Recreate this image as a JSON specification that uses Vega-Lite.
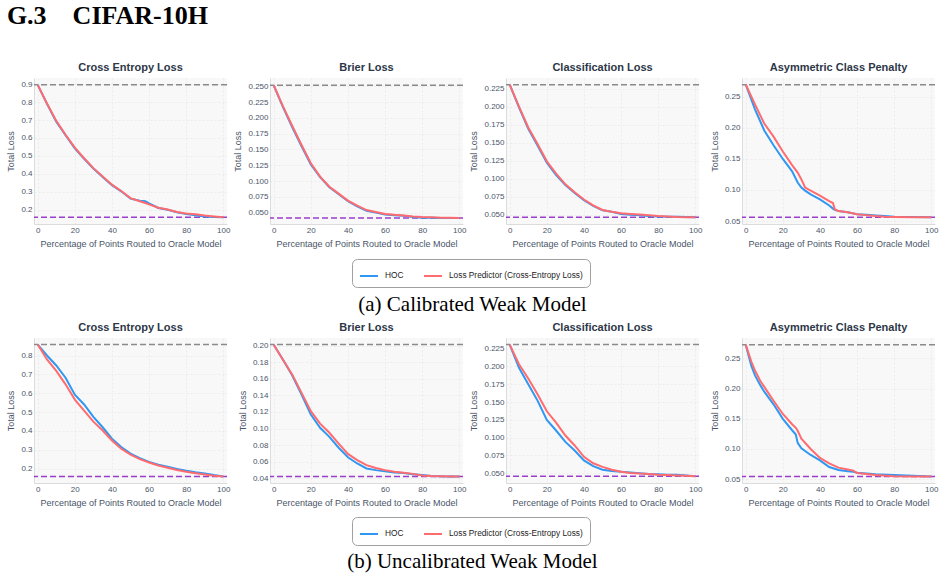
{
  "$schema": "https://vega.github.io/schema/vega-lite/v6.json",
  "background": "white",
  "padding": {"top": 3, "left": 6, "right": 5, "bottom": 5},
  "title": {"text": "G.3\u2003CIFAR-10H", "anchor": "start", "font": "Liberation Serif", "fontSize": 26, "fontWeight": "bold", "color": "#000000", "offset": 33},
  "datasets": {
    "refs": [
      {"p": "a1", "ref": "weak", "loss": 0.896}, {"p": "a1", "ref": "oracle", "loss": 0.158},
      {"p": "a2", "ref": "weak", "loss": 0.2515}, {"p": "a2", "ref": "oracle", "loss": 0.0416},
      {"p": "a3", "ref": "weak", "loss": 0.2305}, {"p": "a3", "ref": "oracle", "loss": 0.0463},
      {"p": "a4", "ref": "weak", "loss": 0.2698}, {"p": "a4", "ref": "oracle", "loss": 0.0559},
      {"p": "b1", "ref": "weak", "loss": 0.858}, {"p": "b1", "ref": "oracle", "loss": 0.158},
      {"p": "b2", "ref": "weak", "loss": 0.2012}, {"p": "b2", "ref": "oracle", "loss": 0.0424},
      {"p": "b3", "ref": "weak", "loss": 0.2306}, {"p": "b3", "ref": "oracle", "loss": 0.0457},
      {"p": "b4", "ref": "weak", "loss": 0.273}, {"p": "b4", "ref": "oracle", "loss": 0.0544}
    ],
    "curves": [
      {"p": "a1", "x": 0, "HOC": 0.896, "LP": 0.896},
      {"p": "a1", "x": 5, "HOC": 0.79, "LP": 0.792},
      {"p": "a1", "x": 10, "HOC": 0.69, "LP": 0.695},
      {"p": "a1", "x": 15, "HOC": 0.615, "LP": 0.618},
      {"p": "a1", "x": 20, "HOC": 0.542, "LP": 0.546},
      {"p": "a1", "x": 25, "HOC": 0.484, "LP": 0.487},
      {"p": "a1", "x": 30, "HOC": 0.43, "LP": 0.432},
      {"p": "a1", "x": 35, "HOC": 0.383, "LP": 0.386},
      {"p": "a1", "x": 40, "HOC": 0.337, "LP": 0.34},
      {"p": "a1", "x": 45, "HOC": 0.303, "LP": 0.305},
      {"p": "a1", "x": 50, "HOC": 0.262, "LP": 0.265},
      {"p": "a1", "x": 55, "HOC": 0.25, "LP": 0.248},
      {"p": "a1", "x": 58, "HOC": 0.248, "LP": 0.238},
      {"p": "a1", "x": 60, "HOC": 0.236, "LP": 0.23},
      {"p": "a1", "x": 65, "HOC": 0.21, "LP": 0.212},
      {"p": "a1", "x": 70, "HOC": 0.2, "LP": 0.202},
      {"p": "a1", "x": 75, "HOC": 0.186, "LP": 0.188},
      {"p": "a1", "x": 80, "HOC": 0.176, "LP": 0.18},
      {"p": "a1", "x": 85, "HOC": 0.17, "LP": 0.175},
      {"p": "a1", "x": 90, "HOC": 0.163, "LP": 0.168},
      {"p": "a1", "x": 95, "HOC": 0.16, "LP": 0.163},
      {"p": "a1", "x": 100, "HOC": 0.158, "LP": 0.158},

      {"p": "a2", "x": 0, "HOC": 0.2515, "LP": 0.2515},
      {"p": "a2", "x": 5, "HOC": 0.217, "LP": 0.218},
      {"p": "a2", "x": 10, "HOC": 0.185, "LP": 0.187},
      {"p": "a2", "x": 15, "HOC": 0.155, "LP": 0.157},
      {"p": "a2", "x": 20, "HOC": 0.126, "LP": 0.128},
      {"p": "a2", "x": 25, "HOC": 0.106, "LP": 0.107},
      {"p": "a2", "x": 30, "HOC": 0.09, "LP": 0.091},
      {"p": "a2", "x": 35, "HOC": 0.079, "LP": 0.08},
      {"p": "a2", "x": 40, "HOC": 0.068, "LP": 0.069},
      {"p": "a2", "x": 45, "HOC": 0.06, "LP": 0.061},
      {"p": "a2", "x": 50, "HOC": 0.053, "LP": 0.054},
      {"p": "a2", "x": 55, "HOC": 0.05, "LP": 0.051},
      {"p": "a2", "x": 60, "HOC": 0.047, "LP": 0.048},
      {"p": "a2", "x": 65, "HOC": 0.046, "LP": 0.0465},
      {"p": "a2", "x": 70, "HOC": 0.045, "LP": 0.0455},
      {"p": "a2", "x": 75, "HOC": 0.043, "LP": 0.044},
      {"p": "a2", "x": 80, "HOC": 0.042, "LP": 0.043},
      {"p": "a2", "x": 85, "HOC": 0.0418, "LP": 0.0425},
      {"p": "a2", "x": 90, "HOC": 0.0416, "LP": 0.042},
      {"p": "a2", "x": 95, "HOC": 0.0416, "LP": 0.0418},
      {"p": "a2", "x": 100, "HOC": 0.0416, "LP": 0.0416},

      {"p": "a3", "x": 0, "HOC": 0.2305, "LP": 0.2305},
      {"p": "a3", "x": 5, "HOC": 0.199, "LP": 0.2},
      {"p": "a3", "x": 10, "HOC": 0.169, "LP": 0.171},
      {"p": "a3", "x": 15, "HOC": 0.146, "LP": 0.148},
      {"p": "a3", "x": 20, "HOC": 0.122, "LP": 0.124},
      {"p": "a3", "x": 25, "HOC": 0.105, "LP": 0.107},
      {"p": "a3", "x": 30, "HOC": 0.091, "LP": 0.092},
      {"p": "a3", "x": 35, "HOC": 0.08, "LP": 0.081},
      {"p": "a3", "x": 40, "HOC": 0.07, "LP": 0.071},
      {"p": "a3", "x": 45, "HOC": 0.062, "LP": 0.063},
      {"p": "a3", "x": 50, "HOC": 0.056, "LP": 0.0565},
      {"p": "a3", "x": 55, "HOC": 0.054, "LP": 0.054},
      {"p": "a3", "x": 60, "HOC": 0.051, "LP": 0.052},
      {"p": "a3", "x": 65, "HOC": 0.05, "LP": 0.051},
      {"p": "a3", "x": 70, "HOC": 0.049, "LP": 0.0502},
      {"p": "a3", "x": 75, "HOC": 0.048, "LP": 0.049},
      {"p": "a3", "x": 80, "HOC": 0.0475, "LP": 0.048},
      {"p": "a3", "x": 85, "HOC": 0.0472, "LP": 0.0475},
      {"p": "a3", "x": 90, "HOC": 0.047, "LP": 0.0468},
      {"p": "a3", "x": 95, "HOC": 0.0468, "LP": 0.0465},
      {"p": "a3", "x": 100, "HOC": 0.0463, "LP": 0.0463},

      {"p": "a4", "x": 0, "HOC": 0.27, "LP": 0.27},
      {"p": "a4", "x": 5, "HOC": 0.23, "LP": 0.238},
      {"p": "a4", "x": 10, "HOC": 0.196, "LP": 0.207},
      {"p": "a4", "x": 15, "HOC": 0.172, "LP": 0.186},
      {"p": "a4", "x": 20, "HOC": 0.15, "LP": 0.162},
      {"p": "a4", "x": 25, "HOC": 0.13, "LP": 0.14},
      {"p": "a4", "x": 28, "HOC": 0.112, "LP": 0.128},
      {"p": "a4", "x": 30, "HOC": 0.104, "LP": 0.117},
      {"p": "a4", "x": 32, "HOC": 0.099, "LP": 0.104},
      {"p": "a4", "x": 35, "HOC": 0.093, "LP": 0.099},
      {"p": "a4", "x": 40, "HOC": 0.085, "LP": 0.091},
      {"p": "a4", "x": 45, "HOC": 0.075, "LP": 0.082},
      {"p": "a4", "x": 47, "HOC": 0.07, "LP": 0.079},
      {"p": "a4", "x": 48, "HOC": 0.068, "LP": 0.069},
      {"p": "a4", "x": 50, "HOC": 0.066, "LP": 0.066},
      {"p": "a4", "x": 55, "HOC": 0.064, "LP": 0.064},
      {"p": "a4", "x": 60, "HOC": 0.061, "LP": 0.061},
      {"p": "a4", "x": 65, "HOC": 0.06, "LP": 0.0595},
      {"p": "a4", "x": 70, "HOC": 0.059, "LP": 0.058},
      {"p": "a4", "x": 75, "HOC": 0.058, "LP": 0.057},
      {"p": "a4", "x": 80, "HOC": 0.057, "LP": 0.0565},
      {"p": "a4", "x": 90, "HOC": 0.0565, "LP": 0.056},
      {"p": "a4", "x": 100, "HOC": 0.0559, "LP": 0.0559},

      {"p": "b1", "x": 0, "HOC": 0.858, "LP": 0.858},
      {"p": "b1", "x": 5, "HOC": 0.8, "LP": 0.779},
      {"p": "b1", "x": 10, "HOC": 0.747, "LP": 0.718},
      {"p": "b1", "x": 15, "HOC": 0.682, "LP": 0.647},
      {"p": "b1", "x": 20, "HOC": 0.592, "LP": 0.566},
      {"p": "b1", "x": 25, "HOC": 0.54, "LP": 0.507},
      {"p": "b1", "x": 30, "HOC": 0.474, "LP": 0.449},
      {"p": "b1", "x": 35, "HOC": 0.419, "LP": 0.402},
      {"p": "b1", "x": 40, "HOC": 0.358, "LP": 0.349},
      {"p": "b1", "x": 45, "HOC": 0.314, "LP": 0.305},
      {"p": "b1", "x": 50, "HOC": 0.279, "LP": 0.274},
      {"p": "b1", "x": 55, "HOC": 0.255, "LP": 0.25},
      {"p": "b1", "x": 60, "HOC": 0.235, "LP": 0.232},
      {"p": "b1", "x": 65, "HOC": 0.22, "LP": 0.216},
      {"p": "b1", "x": 70, "HOC": 0.209, "LP": 0.204},
      {"p": "b1", "x": 75, "HOC": 0.198, "LP": 0.192},
      {"p": "b1", "x": 80, "HOC": 0.188, "LP": 0.183},
      {"p": "b1", "x": 85, "HOC": 0.18, "LP": 0.175},
      {"p": "b1", "x": 90, "HOC": 0.174, "LP": 0.168},
      {"p": "b1", "x": 95, "HOC": 0.165, "LP": 0.162},
      {"p": "b1", "x": 100, "HOC": 0.158, "LP": 0.158},

      {"p": "b2", "x": 0, "HOC": 0.201, "LP": 0.201},
      {"p": "b2", "x": 5, "HOC": 0.183, "LP": 0.183},
      {"p": "b2", "x": 10, "HOC": 0.164, "LP": 0.165},
      {"p": "b2", "x": 15, "HOC": 0.141, "LP": 0.143},
      {"p": "b2", "x": 20, "HOC": 0.117, "LP": 0.121},
      {"p": "b2", "x": 25, "HOC": 0.101, "LP": 0.106},
      {"p": "b2", "x": 30, "HOC": 0.09, "LP": 0.095},
      {"p": "b2", "x": 35, "HOC": 0.077, "LP": 0.082},
      {"p": "b2", "x": 40, "HOC": 0.0655, "LP": 0.0695},
      {"p": "b2", "x": 45, "HOC": 0.058, "LP": 0.062},
      {"p": "b2", "x": 50, "HOC": 0.052, "LP": 0.056},
      {"p": "b2", "x": 55, "HOC": 0.05, "LP": 0.0525},
      {"p": "b2", "x": 60, "HOC": 0.0485, "LP": 0.05},
      {"p": "b2", "x": 65, "HOC": 0.047, "LP": 0.048},
      {"p": "b2", "x": 70, "HOC": 0.0465, "LP": 0.0468},
      {"p": "b2", "x": 75, "HOC": 0.045, "LP": 0.0455},
      {"p": "b2", "x": 80, "HOC": 0.044, "LP": 0.0435},
      {"p": "b2", "x": 85, "HOC": 0.043, "LP": 0.0428},
      {"p": "b2", "x": 90, "HOC": 0.0425, "LP": 0.0425},
      {"p": "b2", "x": 95, "HOC": 0.0424, "LP": 0.0424},
      {"p": "b2", "x": 100, "HOC": 0.0424, "LP": 0.0424},

      {"p": "b3", "x": 0, "HOC": 0.2305, "LP": 0.2305},
      {"p": "b3", "x": 5, "HOC": 0.198, "LP": 0.203},
      {"p": "b3", "x": 10, "HOC": 0.175, "LP": 0.183},
      {"p": "b3", "x": 15, "HOC": 0.152, "LP": 0.161},
      {"p": "b3", "x": 20, "HOC": 0.125, "LP": 0.137},
      {"p": "b3", "x": 25, "HOC": 0.11, "LP": 0.121},
      {"p": "b3", "x": 30, "HOC": 0.094, "LP": 0.103},
      {"p": "b3", "x": 35, "HOC": 0.082, "LP": 0.089},
      {"p": "b3", "x": 40, "HOC": 0.068, "LP": 0.073},
      {"p": "b3", "x": 45, "HOC": 0.06, "LP": 0.064},
      {"p": "b3", "x": 50, "HOC": 0.055, "LP": 0.059},
      {"p": "b3", "x": 55, "HOC": 0.053, "LP": 0.055},
      {"p": "b3", "x": 60, "HOC": 0.052, "LP": 0.052},
      {"p": "b3", "x": 65, "HOC": 0.051, "LP": 0.0505},
      {"p": "b3", "x": 70, "HOC": 0.05, "LP": 0.0495},
      {"p": "b3", "x": 75, "HOC": 0.049, "LP": 0.049},
      {"p": "b3", "x": 80, "HOC": 0.0485, "LP": 0.048},
      {"p": "b3", "x": 85, "HOC": 0.048, "LP": 0.0475},
      {"p": "b3", "x": 90, "HOC": 0.0478, "LP": 0.047},
      {"p": "b3", "x": 95, "HOC": 0.047, "LP": 0.0465},
      {"p": "b3", "x": 100, "HOC": 0.0457, "LP": 0.0457},

      {"p": "b4", "x": 0, "HOC": 0.273, "LP": 0.273},
      {"p": "b4", "x": 3, "HOC": 0.238, "LP": 0.245},
      {"p": "b4", "x": 5, "HOC": 0.222, "LP": 0.23},
      {"p": "b4", "x": 8, "HOC": 0.205, "LP": 0.212},
      {"p": "b4", "x": 10, "HOC": 0.195, "LP": 0.203},
      {"p": "b4", "x": 15, "HOC": 0.174, "LP": 0.18},
      {"p": "b4", "x": 20, "HOC": 0.15, "LP": 0.158},
      {"p": "b4", "x": 25, "HOC": 0.131, "LP": 0.141},
      {"p": "b4", "x": 27, "HOC": 0.124, "LP": 0.135},
      {"p": "b4", "x": 28, "HOC": 0.11, "LP": 0.13},
      {"p": "b4", "x": 30, "HOC": 0.101, "LP": 0.117},
      {"p": "b4", "x": 35, "HOC": 0.09, "LP": 0.1},
      {"p": "b4", "x": 40, "HOC": 0.081, "LP": 0.085},
      {"p": "b4", "x": 45, "HOC": 0.07, "LP": 0.076},
      {"p": "b4", "x": 50, "HOC": 0.065, "LP": 0.069},
      {"p": "b4", "x": 55, "HOC": 0.063, "LP": 0.066},
      {"p": "b4", "x": 58, "HOC": 0.062, "LP": 0.064},
      {"p": "b4", "x": 60, "HOC": 0.0605, "LP": 0.06},
      {"p": "b4", "x": 70, "HOC": 0.058, "LP": 0.0566},
      {"p": "b4", "x": 80, "HOC": 0.0567, "LP": 0.0545},
      {"p": "b4", "x": 90, "HOC": 0.0556, "LP": 0.0542},
      {"p": "b4", "x": 100, "HOC": 0.0544, "LP": 0.0544}
    ]
  },
  "spacing": 7,
  "vconcat": [
    {
      "title": {"text": "(a) Calibrated Weak Model", "orient": "bottom", "anchor": "middle", "font": "Liberation Serif", "fontSize": 21, "fontWeight": "normal", "color": "#000000", "offset": 6},
      "bounds": "flush",
      "spacing": 43,
      "resolve": {"scale": {"color": "independent"}, "legend": {"color": "independent"}},
      "hconcat": [
        {
          "width": 193, "height": 146, "title": "Cross Entropy Loss",
          "encoding": {"y": {"field": "loss", "type": "quantitative", "scale": {"domain": [0.121, 0.934], "nice": false, "zero": false}, "axis": {"title": "Total Loss", "values": [0.2, 0.3, 0.4, 0.5, 0.6, 0.7, 0.8, 0.9], "format": ".1f"}}},
          "layer": [
            {"data": {"name": "refs"}, "transform": [{"filter": "datum.p === 'a1'"}], "mark": {"type": "rule", "strokeDash": [6, 3], "strokeWidth": 1.5},
             "encoding": {"color": {"condition": {"test": "datum.ref === 'weak'", "value": "#8a8a8a"}, "value": "#9b3dcb"}}},
            {"data": {"name": "curves"}, "transform": [{"filter": "datum.p === 'a1'"}, {"fold": ["HOC", "LP"], "as": ["series", "loss"]}], "mark": {"type": "line", "strokeWidth": 2},
             "encoding": {
               "x": {"field": "x", "type": "quantitative", "scale": {"domain": [-2, 102], "nice": false}, "axis": {"title": "Percentage of Points Routed to Oracle Model", "values": [0, 20, 40, 60, 80, 100]}},
               "color": {"field": "series", "type": "nominal", "scale": {"domain": ["HOC", "LP"], "range": ["#3097f2", "#ff6b6e"]}, "legend": null}}}
          ]
        },
        {
          "width": 193, "height": 146, "title": "Brier Loss",
          "encoding": {"y": {"field": "loss", "type": "quantitative", "scale": {"domain": [0.032, 0.263], "nice": false, "zero": false}, "axis": {"title": "Total Loss", "values": [0.05, 0.075, 0.1, 0.125, 0.15, 0.175, 0.2, 0.225, 0.25], "format": ".3f"}}},
          "layer": [
            {"data": {"name": "refs"}, "transform": [{"filter": "datum.p === 'a2'"}], "mark": {"type": "rule", "strokeDash": [6, 3], "strokeWidth": 1.5},
             "encoding": {"color": {"condition": {"test": "datum.ref === 'weak'", "value": "#8a8a8a"}, "value": "#9b3dcb"}}},
            {"data": {"name": "curves"}, "transform": [{"filter": "datum.p === 'a2'"}, {"fold": ["HOC", "LP"], "as": ["series", "loss"]}], "mark": {"type": "line", "strokeWidth": 2},
             "encoding": {
               "x": {"field": "x", "type": "quantitative", "scale": {"domain": [-2, 102], "nice": false}, "axis": {"title": "Percentage of Points Routed to Oracle Model", "values": [0, 20, 40, 60, 80, 100]}},
               "color": {"field": "series", "type": "nominal", "scale": {"domain": ["HOC", "LP"], "range": ["#3097f2", "#ff6b6e"]},
                 "legend": {"orient": "none", "legendX": 82, "legendY": 181, "direction": "horizontal", "title": null, "symbolType": "stroke", "symbolSize": 324, "symbolStrokeWidth": 2, "labelFont": "Liberation Sans", "labelFontSize": 8.3, "labelColor": "#222222", "labelOffset": 6, "columnPadding": 16, "padding": 7, "fillColor": "#ffffff", "strokeColor": "#a0a0a0", "cornerRadius": 5,
                   "labelExpr": "datum.label === 'LP' ? 'Loss Predictor (Cross-Entropy Loss)' : datum.label"}}}}
          ]
        },
        {
          "width": 193, "height": 146, "title": "Classification Loss",
          "encoding": {"y": {"field": "loss", "type": "quantitative", "scale": {"domain": [0.037, 0.2397], "nice": false, "zero": false}, "axis": {"title": "Total Loss", "values": [0.05, 0.075, 0.1, 0.125, 0.15, 0.175, 0.2, 0.225], "format": ".3f"}}},
          "layer": [
            {"data": {"name": "refs"}, "transform": [{"filter": "datum.p === 'a3'"}], "mark": {"type": "rule", "strokeDash": [6, 3], "strokeWidth": 1.5},
             "encoding": {"color": {"condition": {"test": "datum.ref === 'weak'", "value": "#8a8a8a"}, "value": "#9b3dcb"}}},
            {"data": {"name": "curves"}, "transform": [{"filter": "datum.p === 'a3'"}, {"fold": ["HOC", "LP"], "as": ["series", "loss"]}], "mark": {"type": "line", "strokeWidth": 2},
             "encoding": {
               "x": {"field": "x", "type": "quantitative", "scale": {"domain": [-2, 102], "nice": false}, "axis": {"title": "Percentage of Points Routed to Oracle Model", "values": [0, 20, 40, 60, 80, 100]}},
               "color": {"field": "series", "type": "nominal", "scale": {"domain": ["HOC", "LP"], "range": ["#3097f2", "#ff6b6e"]}, "legend": null}}}
          ]
        },
        {
          "width": 193, "height": 146, "title": "Asymmetric Class Penalty",
          "encoding": {"y": {"field": "loss", "type": "quantitative", "scale": {"domain": [0.0452, 0.2805], "nice": false, "zero": false}, "axis": {"title": "Total Loss", "values": [0.05, 0.1, 0.15, 0.2, 0.25], "format": ".2f"}}},
          "layer": [
            {"data": {"name": "refs"}, "transform": [{"filter": "datum.p === 'a4'"}], "mark": {"type": "rule", "strokeDash": [6, 3], "strokeWidth": 1.5},
             "encoding": {"color": {"condition": {"test": "datum.ref === 'weak'", "value": "#8a8a8a"}, "value": "#9b3dcb"}}},
            {"data": {"name": "curves"}, "transform": [{"filter": "datum.p === 'a4'"}, {"fold": ["HOC", "LP"], "as": ["series", "loss"]}], "mark": {"type": "line", "strokeWidth": 2},
             "encoding": {
               "x": {"field": "x", "type": "quantitative", "scale": {"domain": [-2, 102], "nice": false}, "axis": {"title": "Percentage of Points Routed to Oracle Model", "values": [0, 20, 40, 60, 80, 100]}},
               "color": {"field": "series", "type": "nominal", "scale": {"domain": ["HOC", "LP"], "range": ["#3097f2", "#ff6b6e"]}, "legend": null}}}
          ]
        }
      ]
    },
    {
      "title": {"text": "(b) Uncalibrated Weak Model", "orient": "bottom", "anchor": "middle", "font": "Liberation Serif", "fontSize": 21, "fontWeight": "normal", "color": "#000000", "offset": 5},
      "bounds": "flush",
      "spacing": 43,
      "resolve": {"scale": {"color": "independent"}, "legend": {"color": "independent"}},
      "hconcat": [
        {
          "width": 193, "height": 145, "title": "Cross Entropy Loss",
          "encoding": {"y": {"field": "loss", "type": "quantitative", "scale": {"domain": [0.123, 0.893], "nice": false, "zero": false}, "axis": {"title": "Total Loss", "values": [0.2, 0.3, 0.4, 0.5, 0.6, 0.7, 0.8], "format": ".1f"}}},
          "layer": [
            {"data": {"name": "refs"}, "transform": [{"filter": "datum.p === 'b1'"}], "mark": {"type": "rule", "strokeDash": [6, 3], "strokeWidth": 1.5},
             "encoding": {"color": {"condition": {"test": "datum.ref === 'weak'", "value": "#8a8a8a"}, "value": "#9b3dcb"}}},
            {"data": {"name": "curves"}, "transform": [{"filter": "datum.p === 'b1'"}, {"fold": ["HOC", "LP"], "as": ["series", "loss"]}], "mark": {"type": "line", "strokeWidth": 2},
             "encoding": {
               "x": {"field": "x", "type": "quantitative", "scale": {"domain": [-2, 102], "nice": false}, "axis": {"title": "Percentage of Points Routed to Oracle Model", "values": [0, 20, 40, 60, 80, 100]}},
               "color": {"field": "series", "type": "nominal", "scale": {"domain": ["HOC", "LP"], "range": ["#3097f2", "#ff6b6e"]}, "legend": null}}}
          ]
        },
        {
          "width": 193, "height": 145, "title": "Brier Loss",
          "encoding": {"y": {"field": "loss", "type": "quantitative", "scale": {"domain": [0.0345, 0.2091], "nice": false, "zero": false}, "axis": {"title": "Total Loss", "values": [0.04, 0.06, 0.08, 0.1, 0.12, 0.14, 0.16, 0.18, 0.2], "format": ".2f"}}},
          "layer": [
            {"data": {"name": "refs"}, "transform": [{"filter": "datum.p === 'b2'"}], "mark": {"type": "rule", "strokeDash": [6, 3], "strokeWidth": 1.5},
             "encoding": {"color": {"condition": {"test": "datum.ref === 'weak'", "value": "#8a8a8a"}, "value": "#9b3dcb"}}},
            {"data": {"name": "curves"}, "transform": [{"filter": "datum.p === 'b2'"}, {"fold": ["HOC", "LP"], "as": ["series", "loss"]}], "mark": {"type": "line", "strokeWidth": 2},
             "encoding": {
               "x": {"field": "x", "type": "quantitative", "scale": {"domain": [-2, 102], "nice": false}, "axis": {"title": "Percentage of Points Routed to Oracle Model", "values": [0, 20, 40, 60, 80, 100]}},
               "color": {"field": "series", "type": "nominal", "scale": {"domain": ["HOC", "LP"], "range": ["#3097f2", "#ff6b6e"]},
                 "legend": {"orient": "none", "legendX": 82, "legendY": 179, "direction": "horizontal", "title": null, "symbolType": "stroke", "symbolSize": 324, "symbolStrokeWidth": 2, "labelFont": "Liberation Sans", "labelFontSize": 8.3, "labelColor": "#222222", "labelOffset": 6, "columnPadding": 16, "padding": 7, "fillColor": "#ffffff", "strokeColor": "#a0a0a0", "cornerRadius": 5,
                   "labelExpr": "datum.label === 'LP' ? 'Loss Predictor (Cross-Entropy Loss)' : datum.label"}}}}
          ]
        },
        {
          "width": 193, "height": 145, "title": "Classification Loss",
          "encoding": {"y": {"field": "loss", "type": "quantitative", "scale": {"domain": [0.0363, 0.2399], "nice": false, "zero": false}, "axis": {"title": "Total Loss", "values": [0.05, 0.075, 0.1, 0.125, 0.15, 0.175, 0.2, 0.225], "format": ".3f"}}},
          "layer": [
            {"data": {"name": "refs"}, "transform": [{"filter": "datum.p === 'b3'"}], "mark": {"type": "rule", "strokeDash": [6, 3], "strokeWidth": 1.5},
             "encoding": {"color": {"condition": {"test": "datum.ref === 'weak'", "value": "#8a8a8a"}, "value": "#9b3dcb"}}},
            {"data": {"name": "curves"}, "transform": [{"filter": "datum.p === 'b3'"}, {"fold": ["HOC", "LP"], "as": ["series", "loss"]}], "mark": {"type": "line", "strokeWidth": 2},
             "encoding": {
               "x": {"field": "x", "type": "quantitative", "scale": {"domain": [-2, 102], "nice": false}, "axis": {"title": "Percentage of Points Routed to Oracle Model", "values": [0, 20, 40, 60, 80, 100]}},
               "color": {"field": "series", "type": "nominal", "scale": {"domain": ["HOC", "LP"], "range": ["#3097f2", "#ff6b6e"]}, "legend": null}}}
          ]
        },
        {
          "width": 193, "height": 145, "title": "Asymmetric Class Penalty",
          "encoding": {"y": {"field": "loss", "type": "quantitative", "scale": {"domain": [0.0435, 0.284], "nice": false, "zero": false}, "axis": {"title": "Total Loss", "values": [0.05, 0.1, 0.15, 0.2, 0.25], "format": ".2f"}}},
          "layer": [
            {"data": {"name": "refs"}, "transform": [{"filter": "datum.p === 'b4'"}], "mark": {"type": "rule", "strokeDash": [6, 3], "strokeWidth": 1.5},
             "encoding": {"color": {"condition": {"test": "datum.ref === 'weak'", "value": "#8a8a8a"}, "value": "#9b3dcb"}}},
            {"data": {"name": "curves"}, "transform": [{"filter": "datum.p === 'b4'"}, {"fold": ["HOC", "LP"], "as": ["series", "loss"]}], "mark": {"type": "line", "strokeWidth": 2},
             "encoding": {
               "x": {"field": "x", "type": "quantitative", "scale": {"domain": [-2, 102], "nice": false}, "axis": {"title": "Percentage of Points Routed to Oracle Model", "values": [0, 20, 40, 60, 80, 100]}},
               "color": {"field": "series", "type": "nominal", "scale": {"domain": ["HOC", "LP"], "range": ["#3097f2", "#ff6b6e"]}, "legend": null}}}
          ]
        }
      ]
    }
  ],
  "config": {
    "font": "Liberation Sans",
    "view": {"fill": "#f8f8f8", "stroke": null},
    "axis": {"labelFont": "Liberation Sans", "labelFontSize": 8, "labelColor": "#4a5568", "titleFont": "Liberation Sans", "titleFontSize": 9, "titleFontWeight": "normal", "titleColor": "#4a5568", "ticks": false, "labelPadding": 2, "titlePadding": 5, "domainColor": "#dcdcdc", "domainWidth": 1, "gridColor": "#e4e4e4", "gridDash": [2, 2], "gridWidth": 0.6},
    "title": {"font": "Liberation Sans", "fontSize": 11, "fontWeight": "bold", "color": "#2d3748", "offset": 5}
  }
}
